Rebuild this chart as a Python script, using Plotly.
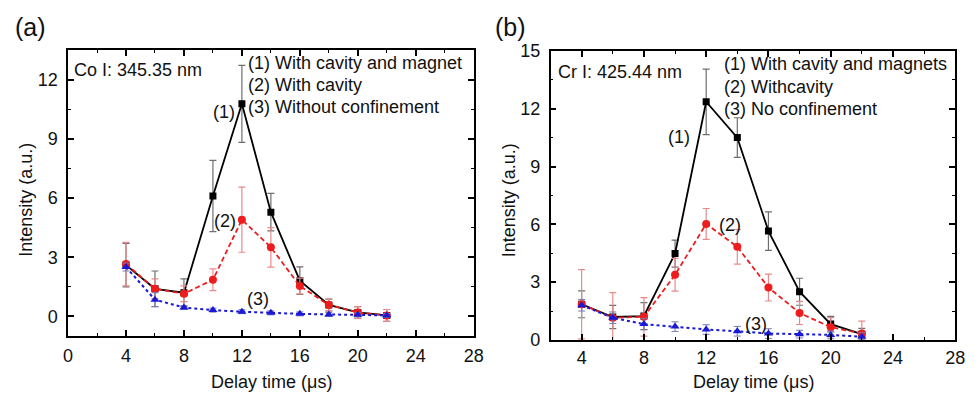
import plotly.graph_objects as go

# ---------------- data ----------------
delay = [4, 6, 8, 10, 12, 14, 16, 18, 20, 22]

# panel (a) Co I 345.35 nm
a_s1 = [2.6, 1.4, 1.2, 6.1, 10.77, 5.28, 1.81, 0.58, 0.2, 0.05]
a_s1_err = [1.1, 0.9, 0.7, 1.8, 1.95, 0.95, 0.7, 0.3, 0.3, 0.3]
a_s2 = [2.65, 1.4, 1.15, 1.86, 4.9, 3.5, 1.54, 0.58, 0.2, 0.05]
a_s2_err = [1.1, 0.5, 0.4, 0.55, 1.65, 1.0, 0.4, 0.3, 0.3, 0.3]
a_s3 = [2.5, 0.85, 0.45, 0.32, 0.24, 0.18, 0.13, 0.1, 0.08, 0.05]
a_s3_err = [0.2, 0.35, 0.1, 0.1, 0.1, 0.1, 0.1, 0.1, 0.1, 0.1]

# panel (b) Cr I 425.44 nm
b_s1 = [1.85, 1.19, 1.24, 4.48, 12.36, 10.5, 5.65, 2.5, 0.82, 0.3]
b_s1_err = [0.7, 0.6, 0.7, 0.7, 1.7, 1.03, 1.0, 0.7, 0.4, 0.3]
b_s2 = [1.85, 1.15, 1.2, 3.38, 6.02, 4.83, 2.72, 1.4, 0.66, 0.33]
b_s2_err = [1.8, 1.3, 1.0, 0.85, 0.8, 0.9, 0.7, 0.6, 0.5, 0.65]
b_s3 = [1.8, 1.15, 0.82, 0.69, 0.54, 0.45, 0.33, 0.3, 0.26, 0.17]
b_s3_err = [0.3, 0.3, 0.3, 0.25, 0.25, 0.25, 0.25, 0.2, 0.2, 0.2]

a_legend = ["(1) With cavity and magnet", "(2) With cavity", "(3) Without confinement"]
b_legend = ["(1) With cavity and magnets", "(2) Withcavity", "(3) No confinement"]
a_title = "Co I: 345.35 nm"
b_title = "Cr I: 425.44 nm"
x_label = "Delay time (\u03bcs)"
y_label = "Intensity (a.u.)"

FONT = "Liberation Sans, Arial, sans-serif"
FS = 18

fig = go.Figure()

def add_series(xa, ya, s1, e1, s2, e2, s3, e3):
    fig.add_trace(go.Scatter(
        x=delay, y=s1, xaxis=xa, yaxis=ya, mode="lines+markers",
        line=dict(color="black", width=1.8),
        marker=dict(symbol="square", size=7, color="black"),
        error_y=dict(type="data", array=e1, color="#6e6e6e", thickness=1.2, width=3.5),
        showlegend=False))
    fig.add_trace(go.Scatter(
        x=delay, y=s2, xaxis=xa, yaxis=ya, mode="lines+markers",
        line=dict(color="#ee1c1c", width=1.8, dash="5px,3px"),
        marker=dict(symbol="circle", size=8, color="#ee1c1c"),
        error_y=dict(type="data", array=e2, color="#e88a8a", thickness=1.2, width=3.5),
        showlegend=False))
    fig.add_trace(go.Scatter(
        x=delay, y=s3, xaxis=xa, yaxis=ya, mode="lines+markers",
        line=dict(color="#1a1ad6", width=2, dash="dot"),
        marker=dict(symbol="triangle-up", size=8, color="#1a1ad6"),
        error_y=dict(type="data", array=e3, color="#7a7ab0", thickness=1.0, width=3.5),
        showlegend=False))

add_series("x", "y", a_s1, a_s1_err, a_s2, a_s2_err, a_s3, a_s3_err)
add_series("x2", "y2", b_s1, b_s1_err, b_s2, b_s2_err, b_s3, b_s3_err)

axis_common = dict(
    showline=True, linecolor="black", linewidth=1.5, mirror="ticks",
    ticks="inside", ticklen=6, tickwidth=1.5, tickcolor="black",
    showgrid=False, zeroline=False,
    tickfont=dict(family=FONT, size=FS, color="#111"),
)
minor_common = dict(ticks="inside", ticklen=3, tickwidth=1.2, tickcolor="black")

fig.update_layout(
    width=979, height=406,
    margin=dict(l=0, r=0, t=0, b=0),
    paper_bgcolor="white", plot_bgcolor="white",
    xaxis=dict(domain=[0.0654, 0.4862], range=[0, 28], tickmode="array",
               tickvals=[0, 4, 8, 12, 16, 20, 24, 28], anchor="y", ticklabelstandoff=2,
               minor=dict(tickvals=[2, 6, 10, 14, 18, 22, 26], **minor_common),
               **axis_common),
    yaxis=dict(domain=[0.155, 0.8966], range=[-1, 13.5], tickmode="array",
               tickvals=[0, 3, 6, 9, 12], anchor="x", ticklabelstandoff=5,
               minor=dict(tickvals=[1.5, 4.5, 7.5, 10.5, 13.5], **minor_common),
               **axis_common),
    xaxis2=dict(domain=[0.5659, 0.9857], range=[2, 28], tickmode="array",
                tickvals=[4, 8, 12, 16, 20, 24, 28], anchor="y2", ticklabelstandoff=1,
                minor=dict(tickvals=[6, 10, 14, 18, 22, 26], **minor_common),
                **axis_common),
    yaxis2=dict(domain=[0.1453, 0.894], range=[0, 15], tickmode="array",
                tickvals=[0, 3, 6, 9, 12, 15], anchor="x2", ticklabelstandoff=5,
                minor=dict(tickvals=[1.5, 4.5, 7.5, 10.5, 13.5], **minor_common),
                **axis_common),
)

ann = []
def txt(x, y, t, xref, yref, size=FS, xanchor="left", yanchor="middle", angle=0):
    ann.append(dict(x=x, y=y, text=t, xref=xref, yref=yref, showarrow=False,
                    xanchor=xanchor, yanchor=yanchor, textangle=angle,
                    font=dict(family=FONT, size=size, color="#111")))

# panel (a)
txt(0.25, 12.5, a_title, "x", "y")
for i, t in enumerate(a_legend):
    txt(12.3, 12.85 - 1.13 * i, t, "x", "y")
txt(11.65, 10.35, "(1)", "x", "y", xanchor="right")
txt(11.7, 4.85, "(2)", "x", "y", xanchor="right")
txt(13.1, 0.9, "(3)", "x", "y", xanchor="center")
# panel (b)
txt(2.35, 13.9, b_title, "x2", "y2")
for i, t in enumerate(b_legend):
    txt(13.0, 14.3 - 1.15 * i, t, "x2", "y2")
txt(11.1, 10.55, "(1)", "x2", "y2", xanchor="right")
txt(12.7, 5.95, "(2)", "x2", "y2", xanchor="left")
txt(15.2, 0.85, "(3)", "x2", "y2", xanchor="center")

# axis titles
txt(271 / 979, 1 - 391 / 406, x_label, "paper", "paper", xanchor="center")
txt(760 / 979, 1 - 391 / 406, x_label, "paper", "paper", xanchor="center")
txt(21 / 979, 1 - 200 / 406, y_label, "paper", "paper", xanchor="center", angle=-90)
txt(512 / 979, 1 - 200 / 406, y_label, "paper", "paper", xanchor="center", angle=-90)
# panel letters
txt(8 / 979, 1 - 18 / 406, "(a)", "paper", "paper", size=25)
txt(496 / 979, 1 - 18 / 406, "(b)", "paper", "paper", size=25)

fig.update_layout(annotations=ann)
fig.write_html("out.html")
